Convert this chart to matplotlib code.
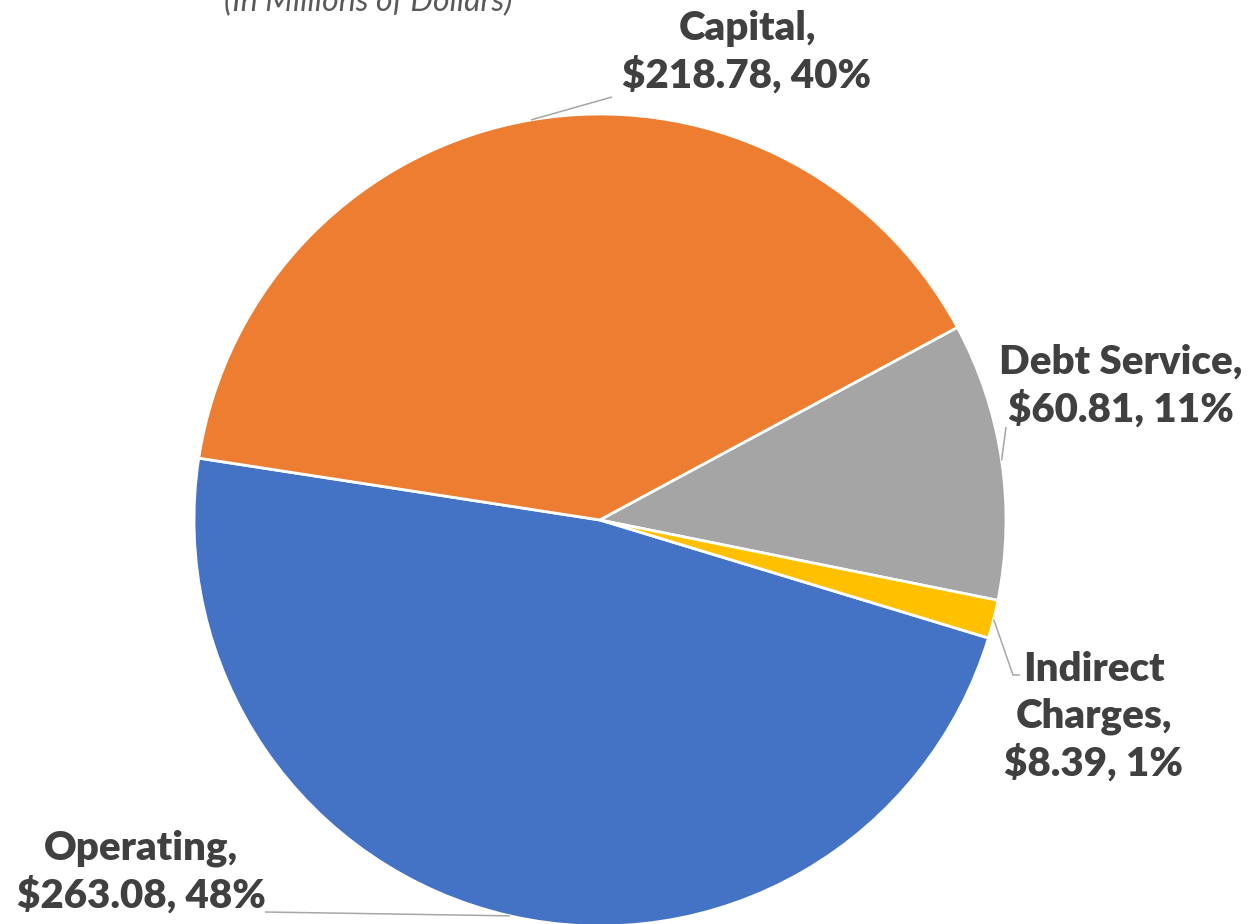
import numpy as np
import matplotlib
matplotlib.use("Agg")
import matplotlib.pyplot as plt

# data
categories = ["Operating", "Capital", "Debt Service", "Indirect Charges"]
amounts = [263.08, 218.78, 60.81, 8.39]
percents = ["48%", "40%", "11%", "1%"]
colors = ["#4472C4", "#ED7D31", "#A5A5A5", "#FFC000"]
subtitle = "(In Millions of Dollars)"

W, H = 1252, 924
plt.rcParams["font.family"] = ["Lato", "DejaVu Sans"]

fig = plt.figure(figsize=(W / 100, H / 100), dpi=100)
ax = fig.add_axes([0, 0, 1, 1])

cx, cy, r = 600, H - 520, 406
wedges, _ = ax.pie(amounts, colors=colors, startangle=-16.9, counterclock=False,
                   center=(cx, cy), radius=r,
                   wedgeprops=dict(edgecolor="white", linewidth=2))
ax.set_xlim(0, W)
ax.set_ylim(0, H)
ax.set_aspect("equal")
ax.axis("off")

label_text = [
    f"{categories[0]},\n${amounts[0]:.2f}, {percents[0]}",
    f"{categories[1]},\n${amounts[1]:.2f}, {percents[1]}",
    f"{categories[2]},\n${amounts[2]:.2f}, {percents[2]}",
    "Indirect\nCharges,\n" + f"${amounts[3]:.2f}, {percents[3]}",
]
# label block centres in image px (y from top)
label_pos = [(141, 872), (747, 52), (1121, 386), (1094, 717)]
# leader line ends / elbows in image px
leader_end = [[(265, 912)], [(612, 97)], [(1006, 427)], [(1013, 675), (1020, 675)]]

for w, txt, (lx, ly), ends in zip(wedges, label_text, label_pos, leader_end):
    mid = np.deg2rad((w.theta1 + w.theta2) / 2)
    sx, sy = cx + r * np.cos(mid), cy + r * np.sin(mid)
    xs = [sx] + [e[0] for e in ends]
    ys = [sy] + [H - e[1] for e in ends]
    ax.plot(xs, ys, color="#A6A6A6", lw=1.1, solid_capstyle="butt")
    ax.text(lx, H - ly, txt, ha="center", va="center", fontsize=29,
            fontweight="heavy", color="#404040", linespacing=1.3)

# subtitle sits partly above the top edge, as in the source image
ax.text(368, H - 11, subtitle, ha="center", va="baseline", fontsize=23,
        style="italic", color="#595959")

fig.savefig("out.png", dpi=100)
